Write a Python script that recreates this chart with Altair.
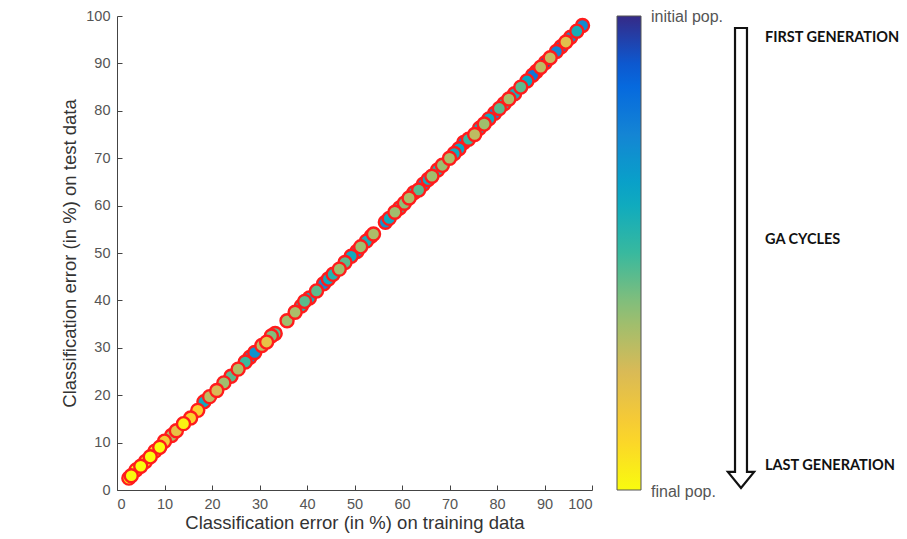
import altair as alt
import pandas as pd

# ---- data ----
# classification error (%) on training data
train_err = [2.5, 3, 4, 5, 6, 7, 8, 9, 10, 11.5, 12.5, 14, 15.5, 17, 18.3, 19.5, 21, 22.5, 24, 25.5,
             27, 28, 29, 30.5, 31.5, 32.5, 33.3,
             35.8, 37.5, 38.8, 39.5, 40.5, 42, 43.5, 44.5, 45.5, 46.8, 48, 49.3, 50.5, 51.3, 52.5, 53.5, 54,
             56.5, 57.3, 58.5, 59.5, 60.5, 61.5, 62.5, 63.5, 64.5, 65.5, 66.3, 67.5, 68.5, 70, 71, 72, 73,
             74, 75.3, 76.3, 77.3, 78.3, 79.5, 80.5, 81.5, 82.5, 83.7, 85, 86.3, 87.5, 88.3, 89.2, 90.2,
             91.2, 92.5, 93.5, 94.5, 95.5, 96.8, 98]
# classification error (%) on test data
test_err = [2.5, 3, 4.2, 5, 6, 7, 8.2, 9, 10.3, 11.5, 12.5, 14, 15.2, 16.8, 18.6, 19.7, 21, 22.6, 24, 25.5,
            27, 28, 29, 30.5, 31.2, 32.5, 33,
            35.7, 37.5, 38.8, 39.8, 40.5, 42, 43.5, 44.5, 45.5, 46.6, 48, 49.3, 50.3, 51.3, 52.5, 53.5, 54,
            56.5, 57.3, 58.6, 59.5, 60.5, 61.6, 62.7, 63.3, 64.5, 65.5, 66.2, 67.5, 68.5, 70, 71, 72, 73.3,
            74, 75, 76.3, 77.2, 78.3, 79.5, 80.5, 81.5, 82.5, 83.6, 85, 86.3, 87.5, 88.3, 89.2, 90.2,
            91.2, 92.5, 93.5, 94.5, 95.5, 96.8, 98]
# population age: 1 = initial population, 0 = final population
population = [0.05, 0.0, 0.02, 0.0, 0.08, 0.0, 0.1, 0.0, 0.15, 0.33, 0.2, 0.02, 0.12, 0.13, 0.6, 0.3, 0.25, 0.35, 0.45, 0.32,
              0.5, 0.72, 0.7, 0.3, 0.2, 0.4, 0.45,
              0.35, 0.33, 0.55, 0.45, 0.6, 0.45, 0.75, 0.6, 0.55, 0.35, 0.45, 0.6, 0.7, 0.35, 0.58, 0.85, 0.33,
              0.7, 0.6, 0.35, 0.5, 0.38, 0.33, 0.55, 0.45, 0.75, 0.6, 0.35, 0.55, 0.36, 0.33, 0.6, 0.62, 0.78,
              0.5, 0.3, 0.6, 0.35, 0.6, 0.75, 0.45, 0.55, 0.33, 0.58, 0.45, 0.62, 0.8, 0.85, 0.3, 0.9,
              0.28, 0.75, 0.8, 0.22, 0.7, 0.58, 0.72]

axis_ticks = [0, 10, 20, 30, 40, 50, 60, 70, 80, 90, 100]
color_stops = [0, 0.125, 0.25, 0.375, 0.5, 0.625, 0.75, 0.875, 1]
parula_colors = ["#f9fb0e", "#fcce2e", "#d9ba56", "#92bf73", "#38b99e",
                 "#06a7c6", "#1485d4", "#0363e1", "#352a87"]
colorbar_labels = ["initial pop.", "final pop."]
stage_labels = ["FIRST GENERATION", "GA CYCLES", "LAST GENERATION"]
x_title = "Classification error (in %) on training data"
y_title = "Classification error (in %) on test data"

df = pd.DataFrame({"train": train_err, "test": test_err, "pop": population})
df = df.sort_values("pop", ascending=False, kind="stable").reset_index(drop=True)
df["draw"] = list(range(len(df)))

FONT = "Liberation Sans"
W, H = 475, 474
scale_xy = alt.Scale(domain=[0, 100], nice=False)

axis_common = dict(
    values=axis_ticks, grid=False, domainColor="#444444", domainWidth=1,
    ticks=False, labelPadding=7, labelFont=FONT, labelFontSize=14.5,
    labelColor="#555555", titleFont=FONT, titleFontSize=18.5,
    titleFontWeight="normal", titleColor="#333333",
)
# tick-only axes placed on the opposite side and shifted onto the plot edge,
# so that the ticks point inwards as in the original figure
tick_axis = dict(values=axis_ticks, grid=False, domain=False, labels=False,
                 ticks=True, tickSize=5, tickColor="#444444", title=None)

inward = alt.Chart(df).mark_circle(opacity=0).encode(
    x=alt.X("train:Q", scale=scale_xy, axis=alt.Axis(orient="top", offset=-H, **tick_axis)),
    y=alt.Y("test:Q", scale=scale_xy, axis=alt.Axis(orient="right", offset=-W, **tick_axis)),
)

points = alt.Chart(df).mark_circle(
    size=170, stroke="#ff1c1c", strokeWidth=2.4, opacity=1
).encode(
    x=alt.X("train:Q", scale=scale_xy,
            axis=alt.Axis(orient="bottom", title=x_title, titlePadding=3, **axis_common)),
    y=alt.Y("test:Q", scale=scale_xy,
            axis=alt.Axis(orient="left", title=y_title, titlePadding=6, **axis_common)),
    color=alt.Color(
        "pop:Q",
        scale=alt.Scale(domain=color_stops, range=parula_colors, interpolate="rgb"),
        legend=alt.Legend(
            orient="none", legendX=500, legendY=0, direction="vertical",
            gradientLength=474, gradientThickness=24, title=None,
            values=[0, 1], labelOpacity=0, labelFontSize=1,
            gradientStrokeColor="#555555", gradientStrokeWidth=1,
        ),
    ),
    order=alt.Order("draw:Q"),
)

one = pd.DataFrame({"k": [0]})
arrow_path = "M -0.026 -1 L 0.026 -1 L 0.026 0.93 L 0.057 0.93 L 0 1 L -0.057 0.93 L -0.026 0.93 Z"
arrow = alt.Chart(one).mark_point(
    shape=arrow_path, filled=False, stroke="#111111", strokeWidth=2.2, opacity=1
).encode(x=alt.value(624), y=alt.value(242), size=alt.value(211600))

cb_y = [1, 476]
cb_texts = [
    alt.Chart(one).mark_text(
        text=lbl, font=FONT, fontSize=16, color="#555555",
        align="left", baseline="middle"
    ).encode(x=alt.value(534), y=alt.value(yy))
    for lbl, yy in zip(colorbar_labels, cb_y)
]

text_y = [22, 224, 450]
texts = [
    alt.Chart(one).mark_text(
        text=lbl, font="Lato", fontSize=14.5, fontWeight="bold", color="#111111",
        align="left", baseline="middle"
    ).encode(x=alt.value(648), y=alt.value(yy))
    for lbl, yy in zip(stage_labels, text_y)
]

chart = alt.layer(inward, points, arrow, *cb_texts, *texts).properties(
    width=W, height=H, background="white",
    autosize=alt.AutoSizeParams(type="none"),
    padding={"left": 117, "top": 16, "right": 315, "bottom": 49},
).configure_view(stroke="transparent", strokeWidth=0)

chart.save("out.html", embed_options={"renderer": "svg", "actions": False})
